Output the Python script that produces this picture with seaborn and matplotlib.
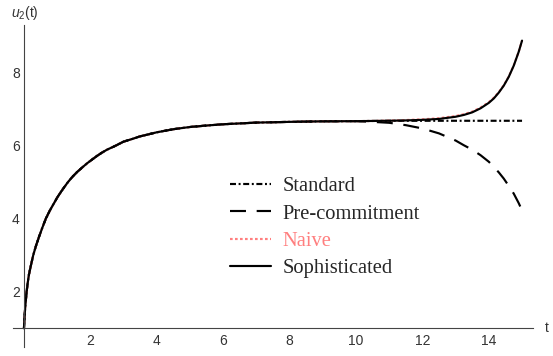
import matplotlib
matplotlib.use("Agg")
import matplotlib.pyplot as plt
import seaborn as sns
import numpy as np
from matplotlib.ticker import MultipleLocator, FixedLocator
from matplotlib.lines import Line2D

# ---- data ----
t_early = [0.0, 0.02, 0.04, 0.06, 0.08, 0.11, 0.15, 0.2, 0.28, 0.35, 0.45, 0.55, 0.66,
           0.78, 0.9, 1.0, 1.1, 1.2, 1.33, 1.45, 1.6, 1.75, 1.89, 2.05, 2.2, 2.35, 2.5,
           2.74, 3.0, 3.25, 3.5, 4.0, 4.5, 5.0, 5.5, 6.0, 7.0, 8.0, 9.0, 10.0]
u_early = [1.0, 1.35, 1.6, 1.8, 2.0, 2.22, 2.47, 2.68, 3.0, 3.22, 3.49, 3.74, 4.0,
           4.22, 4.41, 4.57, 4.71, 4.84, 5.0, 5.13, 5.27, 5.39, 5.5, 5.61, 5.71, 5.80, 5.88,
           5.98, 6.10, 6.17, 6.245, 6.355, 6.44, 6.50, 6.54, 6.575, 6.62, 6.64, 6.655, 6.66]

t_late = [10.5, 11.0, 11.5, 12.0, 12.5, 13.0, 13.25, 13.5, 13.75, 14.0, 14.15, 14.3,
          14.45, 14.6, 14.75, 14.9, 15.0]
u_standard_late = [6.665, 6.67, 6.67, 6.67, 6.67, 6.67, 6.67, 6.67, 6.67, 6.67, 6.67,
                   6.67, 6.67, 6.67, 6.67, 6.67, 6.67]
u_precommit_late = [6.64, 6.615, 6.55, 6.46, 6.325, 6.13, 6.00, 5.88, 5.73, 5.55, 5.41,
                    5.26, 5.09, 4.89, 4.68, 4.42, 4.22]
u_naive_late = [6.665, 6.675, 6.69, 6.71, 6.74, 6.80, 6.85, 6.92, 7.03, 7.18, 7.30, 7.45,
                7.64, 7.88, 8.18, 8.56, 8.86]
u_soph_late = [6.665, 6.67, 6.68, 6.695, 6.72, 6.78, 6.83, 6.90, 7.01, 7.16, 7.28, 7.44,
               7.63, 7.87, 8.175, 8.555, 8.86]

labels = ["Standard", "Pre-commitment", "Naive", "Sophisticated"]
x_major = [2, 4, 6, 8, 10, 12, 14]
y_major = [2, 4, 6, 8]

# ---- styling ----
sns.set_theme(style="white")
plt.rcParams["font.family"] = ["Liberation Sans", "DejaVu Sans"]
plt.rcParams["mathtext.fontset"] = "custom"
plt.rcParams["mathtext.it"] = "Liberation Sans:italic"
plt.rcParams["mathtext.rm"] = "Liberation Sans"
plt.rcParams["lines.scale_dashes"] = False

W, H = 553, 356
fig = plt.figure(figsize=(W / 100, H / 100), dpi=100)
ax = fig.add_axes([13 / W, 9 / H, 520 / W, 322.5 / H])

t_all = t_early + t_late
series = {
    "Standard": u_early + u_standard_late,
    "Pre-commitment": u_early + u_precommit_late,
    "Naive": u_early + u_naive_late,
    "Sophisticated": u_early + u_soph_late,
}
styles = {
    "Standard": dict(color="black", linestyle=(0, (4.3, 1.9, 1.4, 1.9))),
    "Pre-commitment": dict(color="black", linestyle=(0, (11.5, 7.7))),
    "Naive": dict(color="#FF7F7F", linestyle=(0, (1.9, 1.7))),
    "Sophisticated": dict(color="black", linestyle="-"),
}
lw = 1.55
handles = []
for name in labels:
    sns.lineplot(x=t_all, y=series[name], ax=ax, lw=lw, sort=False,
                 estimator=None, **styles[name])
    handles.append(Line2D([], [], lw=lw, **styles[name]))

ax.set_xlim(-0.33, 15.33)
ax.set_ylim(0.49, 9.30)

for s in ["top", "right"]:
    ax.spines[s].set_visible(False)
ax.spines["left"].set_position(("data", 0))
ax.spines["bottom"].set_position(("data", 1))
for s in ["left", "bottom"]:
    ax.spines[s].set_color("#444444")
    ax.spines[s].set_linewidth(0.8)

ax.xaxis.set_major_locator(FixedLocator(x_major))
ax.yaxis.set_major_locator(FixedLocator(y_major))
ax.xaxis.set_minor_locator(MultipleLocator(0.5))
ax.yaxis.set_minor_locator(MultipleLocator(0.5))
ax.tick_params(which="both", direction="in", color="#444444", width=0.8,
               labelsize=10, labelcolor="#333333")
ax.tick_params(which="major", length=4.3)
ax.tick_params(which="minor", length=2.2)
ax.tick_params(axis="x", pad=4)
ax.tick_params(axis="y", pad=3)

fig.text(11 / W, 1 - 13 / H, r"$u_2$(t)", fontsize=10, color="#333333",
         ha="left", va="center")
fig.text(545 / W, 1 - 328 / H, "t", fontsize=10, color="#333333",
         ha="left", va="center")

leg = ax.legend(handles, labels, loc="upper left",
                bbox_to_anchor=(230 / W, 1 - 177 / H),
                bbox_transform=fig.transFigure, frameon=False,
                prop={"family": "Liberation Serif", "size": 14.8},
                handlelength=2.0, handletextpad=0.55, labelspacing=0.38,
                borderpad=0, borderaxespad=0)
for txt, name in zip(leg.get_texts(), labels):
    if name == "Naive":
        txt.set_color("#FF7F7F")

fig.savefig("out.png", dpi=100)
